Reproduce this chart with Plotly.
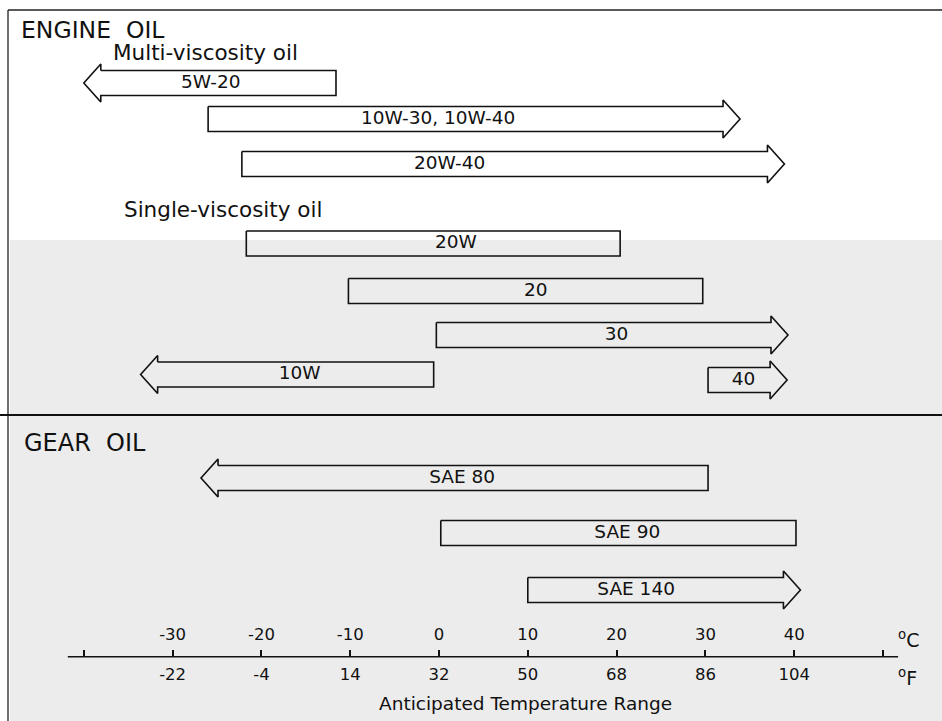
import plotly.graph_objects as go

# ---------------- data (temperatures in °C) ----------------
oil_names = ["5W-20", "10W-30, 10W-40", "20W-40",
             "20W", "20", "30", "10W", "40",
             "SAE 80", "SAE 90", "SAE 140"]
temp_low = [-40.0, -26.0, -22.2, -21.7, -10.2, -0.3, -33.6, 30.3, -26.8, 0.2, 10.0]
temp_high = [-11.6, 33.9, 38.9, 20.4, 29.7, 39.3, -0.6, 39.2, 30.3, 40.2, 40.7]
open_low = [True, False, False, False, False, False, True, False, True, False, False]
open_high = [False, True, True, False, False, True, False, True, False, False, True]

celsius_ticks = [-30, -20, -10, 0, 10, 20, 30, 40]
celsius_labels = ["-30", "-20", "-10", "0", "10", "20", "30", "40"]
fahrenheit_labels = ["-22", "-4", "14", "32", "50", "68", "86", "104"]
end_ticks = [-40, 50]

# ---------------- layout (positions / styles) ----------------
W, H = 942, 721
PX_PER_C = 8.88
X0_PX = 439.0
x_range = [(0 - X0_PX) / PX_PER_C, (W - X0_PX) / PX_PER_C]
row_y = [83, 119, 164, 243.5, 291, 335, 374.5, 380, 478, 533, 590]   # pixel rows
label_x = [-25.7, -0.1, 1.2, 1.9, 10.9, 20.0, -15.7, 34.3, 2.6, 21.2, 22.2]
shaft_half = 12.5
head_half = 19.0
head_len = 17.0 / PX_PER_C
axis_y = 656.7
FONT = "DejaVu Sans, Verdana, sans-serif"
INK = "#111111"

fig = go.Figure()

for name, lo, hi, ol, oh, yc in zip(oil_names, temp_low, temp_high, open_low, open_high, row_y):
    top, bot = yc - shaft_half, yc + shaft_half
    htop, hbot = yc - head_half, yc + head_half
    lx = lo + head_len if ol else lo
    rx = hi - head_len if oh else hi
    xs, ys = [lx, rx], [top, top]
    if oh:
        xs += [rx, hi, rx, rx]
        ys += [htop, yc, hbot, bot]
    else:
        xs += [hi, hi]
        ys += [top, bot]
    xs += [lx]
    ys += [bot]
    if ol:
        xs += [lx, lo, lx, lx]
        ys += [hbot, yc, htop, top]
    else:
        xs += [lo, lo]
        ys += [bot, top]
    fig.add_trace(go.Scatter(x=xs, y=ys, mode="lines",
                             line=dict(color=INK, width=1.6),
                             hoverinfo="skip", showlegend=False))

fig.add_trace(go.Scatter(x=label_x, y=row_y, mode="text", text=oil_names,
                         textfont=dict(family=FONT, size=18.5, color=INK),
                         textposition="middle center", hoverinfo="skip",
                         showlegend=False))

# invisible trace so the Fahrenheit axis is drawn
fig.add_trace(go.Scatter(x=[celsius_ticks[3]], y=[axis_y], xaxis="x2", mode="markers",
                         marker=dict(opacity=0), hoverinfo="skip", showlegend=False))

axis_pos = 1 - axis_y / H
fig.update_layout(
    width=W, height=H, autosize=False,
    margin=dict(l=0, r=0, t=0, b=0),
    paper_bgcolor="white", plot_bgcolor="rgba(0,0,0,0)",
    xaxis=dict(range=x_range, anchor="free", position=axis_pos, side="top",
               tickmode="array", tickvals=celsius_ticks, ticktext=celsius_labels,
               ticks="outside", ticklen=7, tickwidth=1.5, tickcolor=INK,
               minor=dict(tickmode="array", tickvals=end_ticks, ticks="outside",
                          ticklen=7, tickwidth=1.5, tickcolor=INK, showgrid=False),
               showline=False, showgrid=False, zeroline=False,
               tickfont=dict(family=FONT, size=16.5, color=INK),
               ticklabelstandoff=3),
    xaxis2=dict(range=x_range, overlaying="x", anchor="free", position=axis_pos,
                side="bottom", tickmode="array", tickvals=celsius_ticks,
                ticktext=fahrenheit_labels, ticks="", showline=False,
                showgrid=False, zeroline=False,
                tickfont=dict(family=FONT, size=16.5, color=INK),
                ticklabelstandoff=6),
    yaxis=dict(range=[H, 0], visible=False, showgrid=False, zeroline=False),
)

shapes = [
    # scanned grey lower background
    dict(type="rect", xref="paper", yref="y", x0=10 / W, x1=1, y0=240, y1=H,
         fillcolor="#ececec", line=dict(width=0), layer="below"),
    # frame lines
    dict(type="line", xref="paper", yref="y", x0=8 / W, x1=1, y0=10, y1=10,
         line=dict(color="#222222", width=1.3)),
    dict(type="line", xref="paper", yref="y", x0=8 / W, x1=8 / W, y0=10, y1=H,
         line=dict(color="#222222", width=1.3)),
    dict(type="line", xref="paper", yref="y", x0=0, x1=1, y0=415, y1=415,
         line=dict(color=INK, width=2)),
    # temperature axis line
    dict(type="line", xref="x", yref="y", x0=-41.8, x1=51.7, y0=axis_y, y1=axis_y,
         line=dict(color=INK, width=1.6)),
]
fig.update_layout(shapes=shapes)

annotations = [
    dict(text="ENGINE&nbsp;&nbsp;OIL", x=19 / W, y=30, size=23.5),
    dict(text="Multi-viscosity oil", x=111 / W, y=52, size=21.5),
    dict(text="Single-viscosity oil", x=122 / W, y=209, size=21.5),
    dict(text="GEAR&nbsp;&nbsp;OIL", x=22 / W, y=443, size=24),
    dict(text="<sup>o</sup>C", x=896 / W, y=639, size=19),
    dict(text="<sup>o</sup>F", x=896 / W, y=677, size=19),
]
for a in annotations:
    fig.add_annotation(text=a["text"], x=a["x"], y=a["y"], xref="paper", yref="y",
                       xanchor="left", yanchor="middle", showarrow=False,
                       font=dict(family=FONT, size=a["size"], color=INK))
fig.add_annotation(text="Anticipated Temperature Range", x=525.5 / W, y=703,
                   xref="paper", yref="y", xanchor="center", yanchor="middle",
                   showarrow=False, font=dict(family=FONT, size=18.5, color=INK))

fig.write_html("out.html",
               config={"displayModeBar": False},
               post_script="document.body.style.margin='0';"
                           "document.body.style.overflow='hidden';")
